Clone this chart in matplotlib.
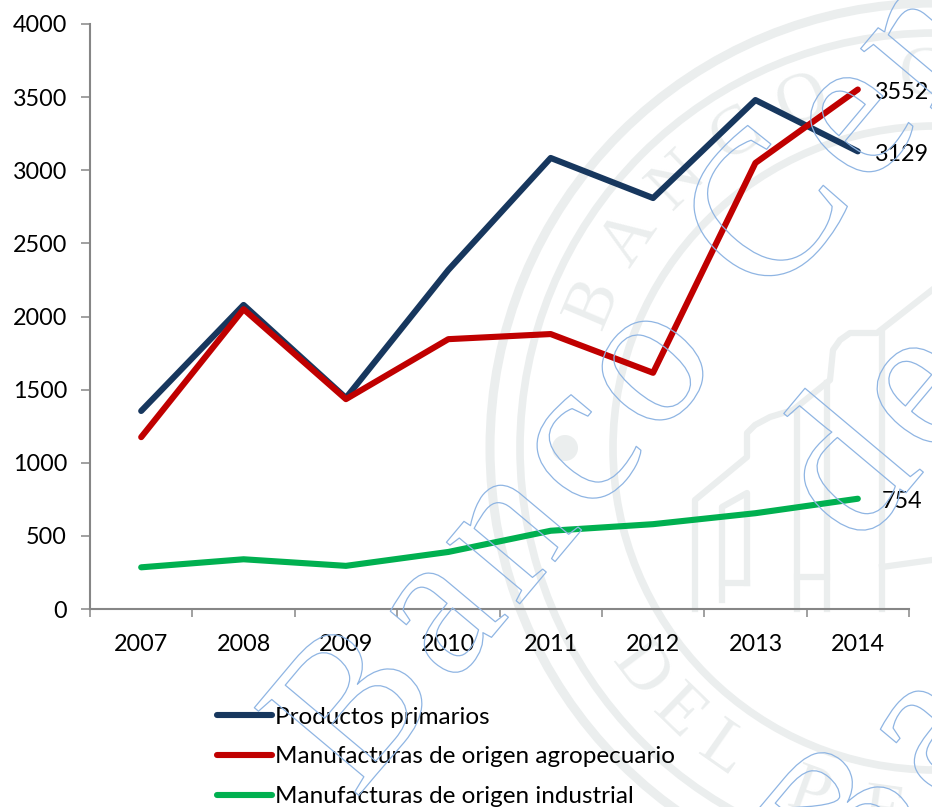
import numpy as np
import matplotlib
matplotlib.use('Agg')
import matplotlib.pyplot as plt
import matplotlib.patheffects as pe
from matplotlib.patches import Circle
from matplotlib.font_manager import FontProperties
from matplotlib.textpath import text_to_path

years = ['2007', '2008', '2009', '2010', '2011', '2012', '2013', '2014']
primarios = [1354, 2079, 1443, 2318, 3084, 2810, 3480, 3129]
agropecuario = [1175, 2050, 1435, 1845, 1880, 1615, 3050, 3552]
industrial = [285, 340, 295, 390, 535, 580, 655, 754]
y_ticks = [0, 500, 1000, 1500, 2000, 2500, 3000, 3500, 4000]

W, H = 932, 807
plt.rcParams['font.family'] = ['Lato', 'DejaVu Sans']
SEAL = '#ebeeee'
MARK = '#8fb5e3'
AXIS = '#868686'

fig = plt.figure(figsize=(W / 100, H / 100), dpi=100, facecolor='white')

# background seal, drawn in pixel coordinates
bg = fig.add_axes([0, 0, 1, 1], zorder=0)
bg.set_xlim(0, W)
bg.set_ylim(H, 0)
bg.axis('off')
cx, cy = 935, 448
for r, lw in [(445, 6.5), (415, 5.5), (322, 5.5)]:
    bg.add_patch(Circle((cx, cy), r, fill=False, ec=SEAL, lw=lw))
bg.add_patch(Circle((565, 448), 13, fc=SEAL, ec='none'))


def ring_letters(letters, angles, top):
    for ch, a in zip(letters, angles):
        t = np.radians(a)
        rot = a - 90 if top else a + 90
        bg.text(cx + 370 * np.cos(t), cy - 370 * np.sin(t), ch, family='Liberation Serif',
                fontsize=50, color=SEAL, rotation=rot, rotation_mode='anchor',
                ha='center', va='center')


ring_letters('BANCOCENT', [157, 145.5, 134, 122.5, 111, 92, 81, 70, 59], True)
ring_letters('DELPE', [217, 226, 235, 250, 262], False)

# building outline in the seal
temple = [
    ([695, 695, 747, 747, 755, 770, 793, 830, 833, 840, 850, 877, 932],
     [609, 500, 457, 433, 425, 417, 410, 380, 350, 340, 333, 333, 290]),
    ([722, 722, 747, 747], [600, 507, 493, 583]),
    ([722, 747], [583, 583]),
    ([797, 797], [609, 410]),
    ([827, 827], [609, 383]),
    ([797, 827], [577, 577]),
    ([882, 882], [609, 333]),
    ([882, 932], [567, 560]),
]
for xs, ys in temple:
    bg.plot(xs, ys, color=SEAL, lw=4.5, solid_joinstyle='round')

# chart
ax = fig.add_axes([90 / W, 1 - 609 / H, (909 - 90) / W, (609 - 24) / H], zorder=1)
ax.patch.set_alpha(0)
x = np.arange(len(years)) + 0.5
ax.plot(x, primarios, color='#17375e', lw=4.4, solid_capstyle='round', solid_joinstyle='round',
        label='Productos primarios')
ax.plot(x, agropecuario, color='#c00000', lw=4.4, solid_capstyle='round', solid_joinstyle='round',
        label='Manufacturas de origen agropecuario')
ax.plot(x, industrial, color='#00b050', lw=4.4, solid_capstyle='round', solid_joinstyle='round',
        label='Manufacturas de origen industrial')

ax.set_xlim(0, len(years))
ax.set_ylim(0, 4000)
ax.set_yticks(y_ticks)
ax.set_xticks(np.arange(len(years) + 1))
ax.set_xticklabels([])
ax.set_xticks(x, labels=years, minor=True)
ax.tick_params(axis='y', length=6.5, width=1.1, color=AXIS, labelsize=16.8, pad=10)
ax.tick_params(axis='x', which='major', length=6, width=1.1, color=AXIS)
ax.tick_params(axis='x', which='minor', length=0, labelsize=16.8, pad=18)
for label in ax.get_yticklabels():
    label.set_va('center_baseline')
for s in ['top', 'right']:
    ax.spines[s].set_visible(False)
for s in ['left', 'bottom']:
    ax.spines[s].set_color(AXIS)
    ax.spines[s].set_linewidth(1.5)

for series, dx in [(primarios, 12), (agropecuario, 12), (industrial, 17)]:
    ax.annotate(str(series[-1]), (x[-1], series[-1]), xytext=(dx, -2), textcoords='offset points',
                fontsize=16.8, va='center', annotation_clip=False)

ax.legend(loc='upper left', bbox_to_anchor=(217 / W, 1 - 706.5 / H), bbox_transform=fig.transFigure,
          frameon=False, fontsize=17.5, borderpad=0, borderaxespad=0, handlelength=2.26,
          handletextpad=0.13, labelspacing=0.78)

# watermark letters on top of everything, spaced out along a rotated baseline
fg = fig.add_axes([0, 0, 1, 1], zorder=2)
fg.set_xlim(0, W)
fg.set_ylim(H, 0)
fg.axis('off')
fg.patch.set_alpha(0)
ANGLE = 50
prop = FontProperties(family='Liberation Serif', size=150)
ux, uy = np.cos(np.radians(ANGLE)), -np.sin(np.radians(ANGLE))
for txt, px, py in [('Banco Central', 355, 800), ('de Reserva', 858, 550), ('Banco', 845, 918)]:
    for ch in txt:
        w = text_to_path.get_text_width_height_descent(ch, prop, False)[0] * 100 / 72
        if ch != ' ' and -150 < px < W + 50 and -150 < py < H + 150:
            t = fg.text(px, py, ch, fontproperties=prop, color='none', rotation=ANGLE,
                        rotation_mode='anchor', ha='left', va='baseline')
            t.set_path_effects([pe.Stroke(linewidth=0.9, foreground=MARK)])
        px += (w + 10) * ux
        py += (w + 10) * uy

fig.savefig('out.png', dpi=100)
